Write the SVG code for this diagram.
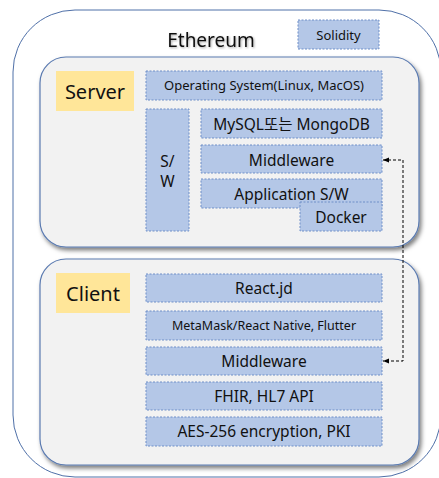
<svg xmlns="http://www.w3.org/2000/svg" width="439" height="478" viewBox="0 0 439 478">
<defs>
<style>
text{font-family:"Noto Sans","Noto Sans CJK KR",sans-serif;fill:#111;text-anchor:middle}
.box{fill:#b4c7e7;stroke:#6f8fc8;stroke-width:1;stroke-dasharray:2,1.5}
.panel{fill:#f2f2f2;stroke:#5a7ab0;stroke-width:1.2;filter:url(#sh)}
.lab{fill:#ffe699}
.t15{font-size:15.5px}
.t13{font-size:13px}
.t12{font-size:12.5px}
.t20{font-size:20px}
</style>
<filter id="sh" x="-5%" y="-5%" width="115%" height="120%">
<feDropShadow dx="2" dy="3" stdDeviation="2" flood-color="#000" flood-opacity="0.5"/>
</filter>
<filter id="tsh" x="-10%" y="-20%" width="130%" height="160%">
<feDropShadow dx="1" dy="1" stdDeviation="0.8" flood-color="#000" flood-opacity="0.35"/>
</filter>
<marker id="ah" viewBox="0 0 10 10" refX="10" refY="5" markerWidth="6" markerHeight="6" orient="auto-start-reverse">
<path d="M0,1 L10,5 L0,9 z" fill="#000"/>
</marker>
</defs>
<rect width="439" height="478" fill="#fff"/>
<g id="ethereum">
<rect x="13" y="10" width="428" height="467" rx="62" fill="#fff" stroke="#4f70a8" stroke-width="1"/>
<text x="211" y="47" font-size="19" filter="url(#tsh)">Ethereum</text>
</g>
<g id="solidity">
<rect class="box" x="298" y="20" width="81" height="29"/>
<text class="t13" x="338.5" y="39.5">Solidity</text>
</g>
<g id="server">
<rect class="panel" x="40" y="57" width="379" height="190" rx="26"/>
<rect class="lab" x="56" y="71" width="78" height="40"/>
<text class="t20" x="95" y="98.5">Server</text>
</g>
<g id="os">
<rect class="box" x="146" y="71" width="236" height="29"/>
<text class="t13" x="264" y="90">Operating System(Linux, MacOS)</text>
</g>
<g id="sw">
<rect class="box" x="146" y="109" width="43" height="122"/>
<text class="t15" x="167.5" y="167">S/</text>
<text class="t15" x="167.5" y="187">W</text>
</g>
<g id="mysql">
<rect class="box" x="201" y="109" width="181" height="29"/>
<text class="t15" x="291.5" y="129.5">MySQL또는 MongoDB</text>
</g>
<g id="middleware-server">
<rect class="box" x="201" y="145" width="181" height="28"/>
<text class="t15" x="291.5" y="165.5">Middleware</text>
</g>
<g id="appsw">
<rect class="box" x="201" y="179" width="181" height="29"/>
<text class="t15" x="291.5" y="199.5">Application S/W</text>
</g>
<g id="docker">
<rect class="box" x="300" y="202" width="82" height="29"/>
<text class="t15" x="341" y="222.5">Docker</text>
</g>
<g id="client">
<rect class="panel" x="40" y="259" width="379" height="206" rx="26"/>
<rect class="lab" x="56" y="273" width="74" height="40"/>
<text class="t20" x="93" y="301">Client</text>
</g>
<g id="react">
<rect class="box" x="146" y="274" width="236" height="28"/>
<text class="t15" x="264" y="294">React.jd</text>
</g>
<g id="metamask">
<rect class="box" x="146" y="311" width="236" height="29"/>
<text class="t12" x="264" y="330">MetaMask/React Native, Flutter</text>
</g>
<g id="middleware-client">
<rect class="box" x="146" y="347" width="236" height="28"/>
<text class="t15" x="264" y="367">Middleware</text>
</g>
<g id="fhir">
<rect class="box" x="146" y="382" width="236" height="28"/>
<text class="t15" x="264" y="402">FHIR, HL7 API</text>
</g>
<g id="aes">
<rect class="box" x="146" y="417" width="236" height="29"/>
<text class="t15" x="264" y="437">AES-256 encryption, PKI</text>
</g>
<g id="connectors">
<path d="M383,160 H403 V361 H383" fill="none" stroke="#000" stroke-width="1" stroke-dasharray="3,2" marker-start="url(#ah)" marker-end="url(#ah)"/>
</g>
</svg>
